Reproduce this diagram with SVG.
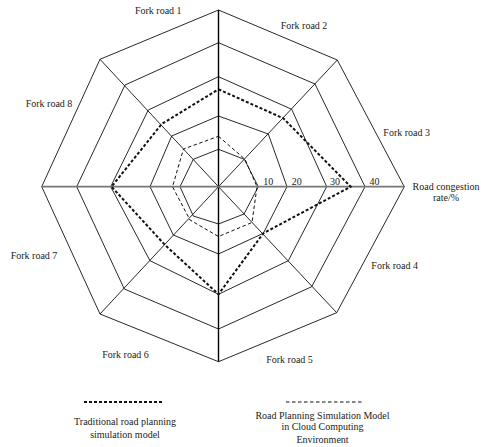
<svg xmlns="http://www.w3.org/2000/svg" width="481" height="447" viewBox="0 0 481 447">
<style>
.ring{fill:none;stroke:#111;stroke-width:0.9}
.spoke{stroke:#111;stroke-width:0.9}
.t{font-family:"Liberation Serif","Times New Roman",serif;font-size:10px;fill:#222}
.m{text-anchor:middle}
.thick{fill:none;stroke:#111;stroke-width:2;stroke-dasharray:3 2}
.thin{fill:none;stroke:#111;stroke-width:1;stroke-dasharray:3.5 2.5}
</style>
<rect width="481" height="447" fill="#fff"/>
<g id="grid">
<polygon class="ring" points="218.5,149.3 244.3,159.3 258.3,186.7 244,214 218.5,224 193.3,216 180,186.7 193.3,159.3"/>
<polygon class="ring" points="218.5,116 268.3,134 287,186.7 263.3,233.3 218.5,254 173.3,235 150,186.7 171.7,136"/>
<polygon class="ring" points="218.5,76.7 291.7,109.3 326.7,186.7 288.3,260.7 218.5,294.3 150,260.7 110.7,186.7 148.3,110"/>
<polygon class="ring" points="218.5,42.7 315,84 365,186.7 311.7,286.7 218.5,329 124.3,289 76.7,186.7 125,85"/>
<polygon class="ring" points="218.5,10 337.3,60 404.3,186.7 336.7,312.7 218.5,361.7 100,314 41.7,186.7 100,59.3"/>
</g>
<g id="connectors">
<line class="spoke" x1="218.5" y1="186.7" x2="337.3" y2="60"/>
<line class="spoke" x1="218.5" y1="186.7" x2="336.7" y2="312.7"/>
<line class="spoke" x1="218.5" y1="186.7" x2="100" y2="314"/>
<line class="spoke" x1="218.5" y1="186.7" x2="100" y2="59.3"/>
<line x1="218.5" y1="10" x2="218.5" y2="361.7" stroke="#000" stroke-width="1.4"/>
<line x1="41.7" y1="186.7" x2="404.3" y2="186.7" stroke="#777" stroke-width="1.8"/>
</g>
<g id="series-traditional">
<polygon class="thick" points="218.5,89.3 283.3,118.3 350.7,186.7 263.3,233.3 218.5,294.3 165,245 111.5,186.7 161.7,124"/>
</g>
<g id="series-cloud">
<polygon class="thin" points="218.5,136.3 245,159.3 257,186.7 252,222.5 218.5,236.5 190,220 172.5,186.7 183.5,149"/>
</g>
<g id="labels">
<text class="t m" x="158.3" y="13.5">Fork road 1</text>
<text class="t m" x="304" y="28.5">Fork road 2</text>
<text class="t m" x="406.7" y="136">Fork road 3</text>
<text class="t m" x="394.7" y="269">Fork road 4</text>
<text class="t m" x="289.5" y="362.5">Fork road 5</text>
<text class="t m" x="125.5" y="357.5">Fork road 6</text>
<text class="t m" x="34" y="258.5">Fork road 7</text>
<text class="t m" x="49" y="107">Fork road 8</text>
<text class="t m" x="446" y="189.5">Road congestion</text>
<text class="t m" x="446" y="200.8">rate/%</text>
<text class="t" x="263.3" y="185.2">10</text>
<text class="t" x="291.7" y="185.2">20</text>
<text class="t" x="330" y="185.2">30</text>
<text class="t" x="369.5" y="185.2">40</text>
</g>
<g id="legend">
<line class="thick" x1="84" y1="402" x2="163" y2="402"/>
<line class="thin" x1="286" y1="402" x2="364" y2="402"/>
<text class="t m" x="125" y="424.5">Traditional road planning</text>
<text class="t m" x="125" y="437.5">simulation model</text>
<text class="t m" x="322.5" y="418.5">Road Planning Simulation Model</text>
<text class="t m" x="322.5" y="430.2">in Cloud Computing</text>
<text class="t m" x="322.5" y="442.8">Environment</text>
</g>
</svg>
